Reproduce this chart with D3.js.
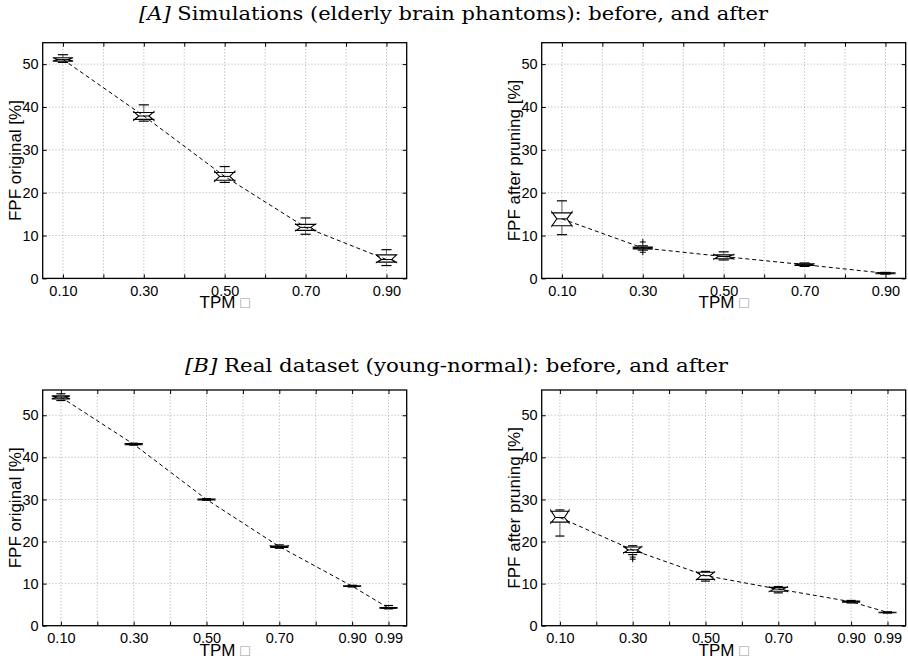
<!DOCTYPE html>
<html>
<head>
<meta charset="utf-8">
<script src="https://cdnjs.cloudflare.com/ajax/libs/d3/7.8.5/d3.min.js"></script>
<style>
    body { margin: 0; background: #fff; }
    svg text { font-family: "Liberation Sans", Arial, sans-serif; fill: #000; }
    .title { font-family: "DejaVu Serif", serif; font-size: 18.5px; }
    .label { font-size: 17px; }
</style>
</head>
<body>
<div id="vis"></div>
<script>
// TPM thresholds: tick labels and the x position of each box
var tpmLabelsA = ['0.10', '0.30', '0.50', '0.70', '0.90'];
var tpmPosA = [0.1, 0.3, 0.5, 0.7, 0.9];
var tpmLabelsB = ['0.10', '0.30', '0.50', '0.70', '0.90', '0.99'];
var tpmPosB = [0.1, 0.3, 0.5, 0.7, 0.9, 1.0];

var yTicks = [0, 10, 20, 30, 40, 50];

// Box stats, one row per TPM: [whisker low, q1, notch low, median, notch high, q3, whisker high]
var simOriginal = [
    [50.4, 50.7, 50.7, 51.1, 51.5, 51.5, 52.2],
    [36.7, 37.1, 36.9, 37.9, 38.9, 38.7, 40.5],
    [22.4, 22.9, 22.7, 23.8, 25.0, 24.7, 26.1],
    [10.3, 11.2, 11.1, 11.9, 12.7, 12.6, 14.1],
    [3.0, 3.8, 3.7, 4.4, 5.5, 5.5, 6.7]
];
var simPruned = [
    [10.2, 12.3, 12.2, 13.9, 15.5, 15.3, 18.1],
    [6.6, 6.9, 6.9, 7.1, 7.3, 7.3, 7.6],
    [4.3, 4.6, 4.5, 5.1, 5.6, 5.5, 6.2],
    [2.8, 3.0, 3.0, 3.2, 3.4, 3.4, 3.6],
    [1.0, 1.1, 1.1, 1.2, 1.3, 1.3, 1.4]
];
var simPrunedOutliers = [[], [8.5, 6.1], [], [], []];

var realOriginal = [
    [53.5, 53.9, 53.9, 54.3, 54.6, 54.6, 55.1],
    [42.9, 43.0, 43.0, 43.1, 43.25, 43.25, 43.35],
    [29.8, 29.9, 29.9, 30.0, 30.1, 30.1, 30.2],
    [18.4, 18.6, 18.6, 18.8, 19.0, 18.95, 19.2],
    [9.2, 9.3, 9.3, 9.4, 9.5, 9.5, 9.6],
    [4.0, 4.1, 4.1, 4.2, 4.3, 4.3, 4.8]
];
var realPruned = [
    [21.3, 24.6, 24.4, 25.7, 27.4, 27.2, 27.5],
    [16.9, 17.4, 17.3, 18.0, 18.8, 18.7, 19.0],
    [10.6, 11.0, 10.9, 11.9, 12.8, 12.7, 12.9],
    [7.8, 8.2, 8.1, 8.7, 9.2, 9.1, 9.3],
    [5.4, 5.6, 5.6, 5.7, 5.85, 5.85, 6.0],
    [3.0, 3.1, 3.1, 3.15, 3.2, 3.2, 3.3]
];
var realPrunedOutliers = [[], [16.3, 15.8], [], [], [], []];

// Figure layout
var width = 908;
var height = 661;

var svg = d3.select('#vis')
    .append('svg')
    .attr('width', width)
    .attr('height', height);

var panels = [
    { left: 42.7, top: 42.7, yMax: 55, stats: simOriginal, outliers: null,
      labels: tpmLabelsA, pos: tpmPosA, ylabel: 'FPF original [%]' },
    { left: 541.7, top: 42.7, yMax: 55, stats: simPruned, outliers: simPrunedOutliers,
      labels: tpmLabelsA, pos: tpmPosA, ylabel: 'FPF after pruning [%]' },
    { left: 42.7, top: 390, yMax: 56, stats: realOriginal, outliers: null,
      labels: tpmLabelsB, pos: tpmPosB, ylabel: 'FPF original [%]' },
    { left: 541.7, top: 390, yMax: 56, stats: realPruned, outliers: realPrunedOutliers,
      labels: tpmLabelsB, pos: tpmPosB, ylabel: 'FPF after pruning [%]' }
];
var drawWidth = 364;
var drawHeight = 235.7;

// Section titles (first part italic), stretched to the reference width
function title(x, y, len, tag, rest) {
    var t = svg.append('text')
        .attr('class', 'title')
        .attr('x', x)
        .attr('y', y)
        .attr('text-anchor', 'middle')
        .attr('textLength', len)
        .attr('lengthAdjust', 'spacingAndGlyphs');
    t.append('tspan').style('font-style', 'italic').text(tag);
    t.append('tspan').text(rest);
}
title(453.5, 19.5, 629, '[A]', ' Simulations (elderly brain phantoms): before, and after');
title(456.5, 371.5, 543, '[B]', ' Real dataset (young-normal): before, and after');

function drawPanel(p) {
    var g = svg.append('g')
        .attr('transform', 'translate(' + p.left + ',' + p.top + ')');

    var maxPos = d3.max(p.pos);
    var xScale = d3.scaleLinear()
        .domain([0.05, maxPos + 0.05])
        .range([0, drawWidth]);
    var yScale = d3.scaleLinear()
        .domain([0, p.yMax])
        .range([drawHeight, 0]);

    // grid every 0.1 in x
    var gridX = d3.range(1, Math.round(maxPos * 10) + 1).map(function(i) { return i / 10; });

    g.selectAll('.gx').data(gridX).enter().append('line')
        .attr('x1', function(d) { return xScale(d); })
        .attr('x2', function(d) { return xScale(d); })
        .attr('y1', 0).attr('y2', drawHeight)
        .attr('stroke', '#9a9a9a').attr('stroke-width', 0.8)
        .attr('stroke-dasharray', '1,2.2');
    g.selectAll('.gy').data(yTicks.slice(1)).enter().append('line')
        .attr('x1', 0).attr('x2', drawWidth)
        .attr('y1', function(d) { return yScale(d); })
        .attr('y2', function(d) { return yScale(d); })
        .attr('stroke', '#9a9a9a').attr('stroke-width', 0.8)
        .attr('stroke-dasharray', '1,2.2');

    // inward tick marks on all four sides
    var tickAxes = [
        [d3.axisBottom(xScale).tickValues(gridX), 'translate(0,' + drawHeight + ')'],
        [d3.axisTop(xScale).tickValues(gridX), 'translate(0,0)'],
        [d3.axisLeft(yScale).tickValues(yTicks), 'translate(0,0)'],
        [d3.axisRight(yScale).tickValues(yTicks), 'translate(' + drawWidth + ',0)']
    ];
    tickAxes.forEach(function(a) {
        var ag = g.append('g')
            .attr('transform', a[1])
            .call(a[0].tickSize(-4).tickFormat(''));
        ag.select('.domain').remove();
        ag.selectAll('line').attr('stroke', '#000');
    });

    // tick labels
    var xLab = g.append('g')
        .attr('transform', 'translate(0,' + drawHeight + ')')
        .call(d3.axisBottom(xScale)
            .tickValues(p.pos)
            .tickSize(0)
            .tickPadding(7)
            .tickFormat(function(d, i) { return p.labels[i]; }));
    var yLab = g.append('g')
        .call(d3.axisLeft(yScale)
            .tickValues(yTicks)
            .tickSize(0)
            .tickPadding(4)
            .tickFormat(d3.format('d')));
    [xLab, yLab].forEach(function(ag) {
        ag.select('.domain').remove();
        ag.attr('font-family', null).attr('font-size', null);
        ag.selectAll('text').style('font-size', '14.5px').attr('fill', '#000');
    });

    // frame
    g.append('rect')
        .attr('width', drawWidth)
        .attr('height', drawHeight)
        .attr('fill', 'none')
        .attr('stroke', '#000')
        .attr('stroke-width', 1.3);

    // axis titles
    var xt = g.append('text')
        .attr('class', 'label')
        .attr('x', drawWidth / 2)
        .attr('y', drawHeight + 30)
        .attr('text-anchor', 'middle')
        .text('TPM ');
    xt.append('tspan').attr('fill', '#999').style('font-size', '16px').text('\u25A1');

    g.append('text')
        .attr('class', 'label')
        .attr('transform', 'translate(-22,' + (drawHeight / 2) + ') rotate(-90)')
        .attr('text-anchor', 'middle')
        .text(p.ylabel);

    // dashed line through the medians
    var line = d3.line()
        .x(function(d, i) { return xScale(p.pos[i]); })
        .y(function(d) { return yScale(d[3]); });
    g.append('path')
        .datum(p.stats)
        .attr('d', line)
        .attr('fill', 'none')
        .attr('stroke', '#000')
        .attr('stroke-width', 1)
        .attr('stroke-dasharray', '4,3');

    // notched boxes
    var w = xScale(0.075) - xScale(0.05);
    var boxes = g.selectAll('.box').data(p.stats).enter().append('g')
        .attr('transform', function(d, i) { return 'translate(' + xScale(p.pos[i]) + ',0)'; });

    boxes.append('path')
        .attr('d', function(d) {
            var pts = [
                [-w, d[1]], [-w, d[2]], [-w / 2, d[3]], [-w, d[4]], [-w, d[5]],
                [w, d[5]], [w, d[4]], [w / 2, d[3]], [w, d[2]], [w, d[1]]
            ];
            return 'M' + pts.map(function(q) { return q[0] + ',' + yScale(q[1]); }).join('L') + 'Z';
        })
        .attr('fill', 'none')
        .attr('stroke', '#000')
        .attr('stroke-width', 1.1);

    boxes.append('line')
        .attr('x1', -w / 2).attr('x2', w / 2)
        .attr('y1', function(d) { return yScale(d[3]); })
        .attr('y2', function(d) { return yScale(d[3]); })
        .attr('stroke', '#000');

    // whiskers and caps
    [[0, 1], [6, 5]].forEach(function(k) {
        boxes.append('line')
            .attr('x1', 0).attr('x2', 0)
            .attr('y1', function(d) { return yScale(d[k[0]]); })
            .attr('y2', function(d) { return yScale(d[k[1]]); })
            .attr('stroke', '#444').attr('stroke-width', 0.8);
        boxes.append('line')
            .attr('x1', -w / 2).attr('x2', w / 2)
            .attr('y1', function(d) { return yScale(d[k[0]]); })
            .attr('y2', function(d) { return yScale(d[k[0]]); })
            .attr('stroke', '#000').attr('stroke-width', 1.2);
    });

    // outliers as '+'
    if (p.outliers) {
        boxes.each(function(d, i) {
            d3.select(this).selectAll('.out').data(p.outliers[i]).enter().append('path')
                .attr('d', function(v) {
                    var y = yScale(v);
                    return 'M-3,' + y + 'H3M0,' + (y - 3) + 'V' + (y + 3);
                })
                .attr('stroke', '#000')
                .attr('stroke-width', 1);
        });
    }
}

panels.forEach(drawPanel);
</script>
</body>
</html>
